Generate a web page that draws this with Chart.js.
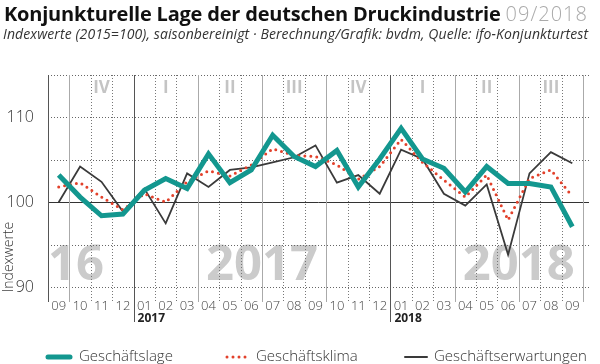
<!DOCTYPE html>
<html>
<head>
<meta charset="utf-8">
<script src="https://cdn.jsdelivr.net/npm/chart.js@4.4.1/dist/chart.umd.min.js"></script>
<style>
  body { margin: 0; background: #fff; }
  #wrap { position: relative; width: 600px; height: 364px; }
  #title { position: absolute; left: 4px; top: 0px; font: 700 20px "Open Sans", sans-serif; color: #111; white-space: nowrap; letter-spacing: -0.2px; }
  #title span { font-weight: 300; color: #aaa; letter-spacing: 1px; }
  #sub { position: absolute; left: 3px; top: 24px; font: italic 14px "Open Sans", sans-serif; color: #333; white-space: nowrap; letter-spacing: 0.1px; }
  canvas { position: absolute; left: 0; top: 0; }
</style>
</head>
<body>
<div id="wrap">
  <canvas id="myChart" width="600" height="364"></canvas>
  <div id="title">Konjunkturelle Lage der deutschen Druckindustrie <span>09/2018</span></div>
  <div id="sub">Indexwerte (2015=100), saisonbereinigt · Berechnung/Grafik: bvdm, Quelle: ifo-Konjunkturtest</div>
</div>
<script>
const months = ["09", "10", "11", "12",
  "01", "02", "03", "04", "05", "06", "07", "08", "09", "10", "11", "12",
  "01", "02", "03", "04", "05", "06", "07", "08", "09"];

const geschaeftslage = [103.2, 100.6, 98.4, 98.6, 101.4, 102.8, 101.6, 105.7, 102.3, 103.8, 107.9, 105.4, 104.2,
  106.1, 101.8, 105.1, 108.7, 105.1, 104.0, 101.2, 104.2, 102.2, 102.2, 101.8, 97.1];
const geschaeftsklima = [101.8, 102.3, 100.6, 99.1, 101.0, 100.0, 102.4, 103.7, 103.1, 104.4, 106.3, 105.5, 105.4,
  104.4, 102.7, 104.2, 107.4, 104.7, 102.6, 100.6, 103.2, 97.9, 102.8, 103.8, 100.7];
const geschaeftserwartungen = [100.0, 104.2, 102.4, 98.9, 101.6, 97.5, 103.4, 101.8, 103.8, 104.1, 104.7, 105.3, 106.7,
  102.3, 103.2, 101.0, 106.2, 105.1, 101.0, 99.6, 102.1, 93.8, 103.4, 105.9, 104.6];

// quarter labels and year watermarks
const quarters = ["IV", "I", "II", "III", "IV", "I", "II", "III"];
const years = ["16", "2017", "2018"];
const yearLabels = ["2017", "2018"];

const TEAL = "#13978f";
const RED = "#e2412b";
const DARK = "#3a3a3a";
const FONT = '"Open Sans", sans-serif';

const decor = {
  id: "decor",
  beforeDatasetsDraw(chart) {
    const { ctx, chartArea: a, scales: { x, y } } = chart;
    const w = (x.getPixelForValue(1) - x.getPixelForValue(0));
    const edge = k => x.getPixelForValue(0) - w / 2 + k * w;
    const bottom = a.bottom + 15;
    ctx.save();

    // big year watermarks
    ctx.fillStyle = "#cbcbcb";
    ctx.font = "700 49px " + FONT;
    ctx.textBaseline = "alphabetic";
    const base = y.getPixelForValue(90) - 7;
    ctx.textAlign = "left";
    ctx.fillText(years[0], edge(0), base);
    ctx.textAlign = "center";
    ctx.fillText(years[1], edge(10), base);
    ctx.fillText(years[2], edge(22), base);

    // quarter numerals
    ctx.font = "700 17px " + FONT;
    ctx.fillStyle = "#c4c4c4";
    ctx.textBaseline = "middle";
    quarters.forEach((q, i) => {
      ctx.fillText(q, edge(2.5 + 3 * i), a.top + 13);
    });

    // horizontal grid
    ctx.lineWidth = 1;
    [90, 95, 100, 105, 110, 115].forEach(v => {
      const py = Math.round(y.getPixelForValue(v)) + 0.5;
      ctx.strokeStyle = v === 100 ? "#333" : "#666";
      ctx.setLineDash(v === 100 ? [] : [1, 2]);
      ctx.beginPath();
      ctx.moveTo(a.left, py);
      ctx.lineTo(a.right + 6, py);
      ctx.stroke();
    });

    // vertical grid
    for (let k = 0; k <= months.length; k++) {
      const px = Math.round(edge(k)) + 0.5;
      const isYear = k === 4 || k === 16;
      const isQuarter = (k - 1) % 3 === 0;
      let end = bottom;
      if (k === 0 || isYear) {
        ctx.strokeStyle = "#555";
        ctx.setLineDash([]);
        if (isYear) end = a.bottom + 35;
      } else if (isQuarter) {
        ctx.strokeStyle = "#aaa";
        ctx.setLineDash([]);
      } else {
        ctx.strokeStyle = "#777";
        ctx.setLineDash([1, 2]);
      }
      ctx.beginPath();
      ctx.moveTo(px, a.top);
      ctx.lineTo(px, end);
      ctx.stroke();
    }
    ctx.setLineDash([]);

    // year labels under the axis
    ctx.fillStyle = "#222";
    ctx.font = "700 12px " + FONT;
    ctx.textAlign = "left";
    ctx.textBaseline = "alphabetic";
    ctx.fillText(yearLabels[0], edge(4) + 4, a.bottom + 35);
    ctx.fillText(yearLabels[1], edge(16) + 4, a.bottom + 35);

    // y axis title
    ctx.save();
    ctx.translate(9, y.getPixelForValue(90) - 30);
    ctx.rotate(-Math.PI / 2);
    ctx.fillStyle = "#333";
    ctx.font = "300 14px " + FONT;
    ctx.textAlign = "center";
    ctx.textBaseline = "middle";
    ctx.fillText("Indexwerte", 0, 0);
    ctx.restore();

    ctx.restore();
  },
  afterDraw(chart) {
    const { ctx } = chart;
    const items = chart.data.datasets;
    const pos = [48, 225, 405];
    const ly = 357;
    ctx.save();
    ctx.font = "300 15px " + FONT;
    ctx.fillStyle = "#333";
    ctx.textBaseline = "middle";
    items.forEach((ds, i) => {
      const x0 = pos[i];
      const len = 22;
      ctx.strokeStyle = ds.borderColor;
      ctx.lineWidth = i === 0 ? 5 : i === 1 ? 3 : 2;
      ctx.lineCap = "round";
      ctx.setLineDash(i === 1 ? [0, 6] : []);
      ctx.beginPath();
      ctx.moveTo(x0 + (i === 1 ? 2 : 0), ly);
      ctx.lineTo(x0 + len, ly);
      ctx.stroke();
      ctx.setLineDash([]);
      ctx.fillText(ds.label, x0 + len + (i === 2 ? 7 : 9), ly);
    });
    ctx.restore();
  }
};

new Chart("myChart", {
  type: "line",
  data: {
    labels: months,
    datasets: [
      {
        label: "Geschäftslage",
        data: geschaeftslage,
        borderColor: TEAL,
        borderWidth: 5,
        borderJoinStyle: "miter",
        pointRadius: 0,
        tension: 0,
      },
      {
        label: "Geschäftsklima",
        data: geschaeftsklima,
        borderColor: RED,
        borderWidth: 3,
        borderDash: [0, 6],
        borderCapStyle: "round",
        pointRadius: 0,
        tension: 0,
      },
      {
        label: "Geschäftserwartungen",
        data: geschaeftserwartungen,
        borderColor: DARK,
        borderWidth: 1.8,
        pointRadius: 0,
        tension: 0,
      },
    ],
  },
  plugins: [decor],
  options: {
    responsive: false,
    animation: false,
    layout: { padding: { top: 75, right: 17, left: 0, bottom: 0 } },
    plugins: {
      legend: { display: false },
      tooltip: { enabled: false },
    },
    scales: {
      x: {
        offset: true,
        grid: { display: false },
        border: { display: false },
        ticks: {
          autoSkip: false,
          maxRotation: 0,
          padding: 3,
          color: "#444",
          font: { family: FONT, size: 13, weight: 300 },
        },
        afterFit(scale) { scale.height = 77; },
      },
      y: {
        min: 90,
        max: 115,
        grid: { display: false },
        border: { display: false },
        ticks: {
          stepSize: 5,
          padding: 6,
          color: "#333",
          font: { family: FONT, size: 16, weight: 300 },
          callback: v => (v % 10 === 0 ? v : ""),
        },
        afterFit(scale) { scale.width = 48; },
      },
    },
  },
});
</script>
</body>
</html>
